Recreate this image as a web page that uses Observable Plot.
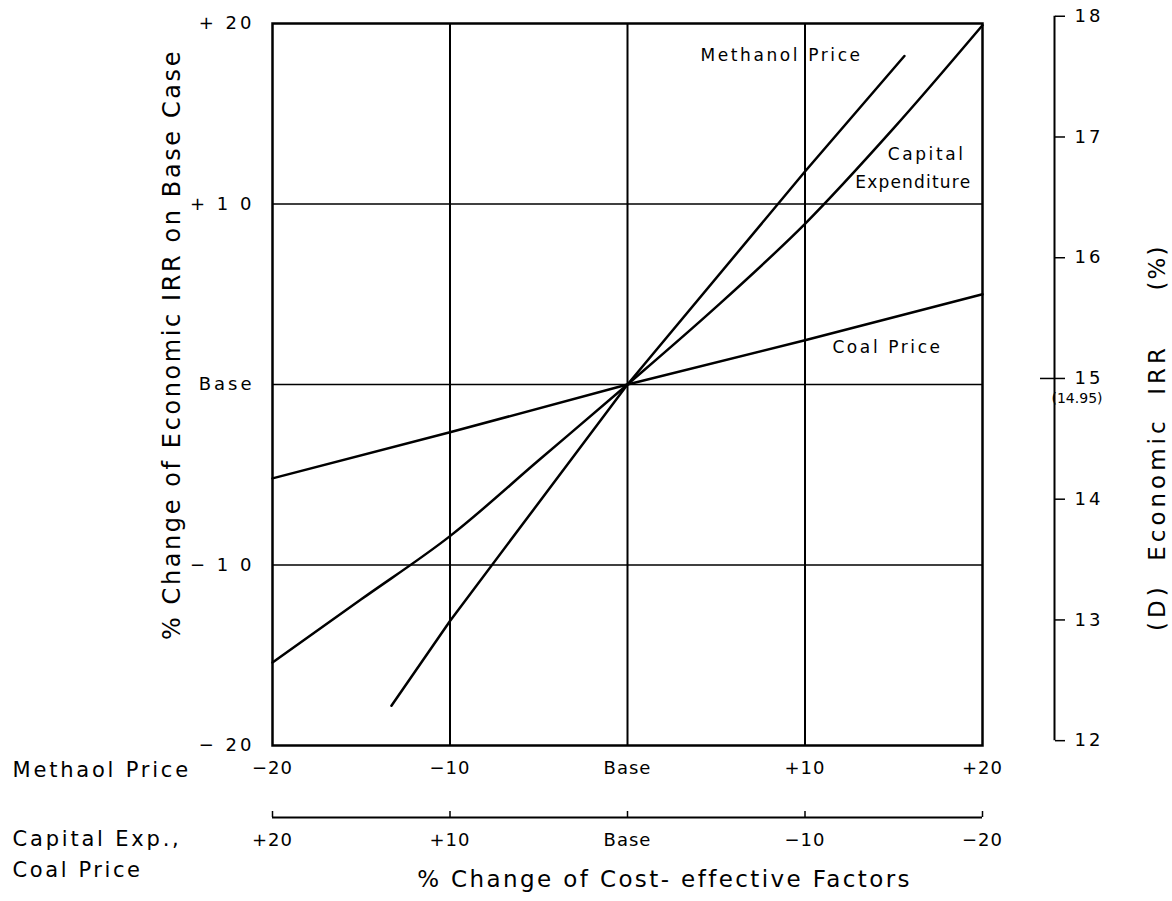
<!DOCTYPE html>
<html>
<head>
<meta charset="utf-8">
<script src="https://cdn.jsdelivr.net/npm/d3@7"></script>
<script src="https://cdn.jsdelivr.net/npm/@observablehq/plot@0.6"></script>
<style>
  html, body { margin: 0; padding: 0; background: #fff; }
  svg text { font-family: "DejaVu Sans", "Liberation Sans", sans-serif; }
  g[aria-label="y-axis tick label"] text { letter-spacing: 3px; }
  g[aria-label="x-axis tick label"] text { letter-spacing: 1px; }
</style>
</head>
<body>
<div id="chart"></div>
<script>
// ---- Data ----
const xTicks = [-20, -10, 0, 10, 20];
const yTicks = [-20, -10, 0, 10, 20];
const yTickLabels = ["− 20", "− 1 0", "Base", "+ 1 0", "+ 20"];
const methanolAxisLabels = ["−20", "−10", "Base", "+10", "+20"];
const capitalAxisLabels = ["+20", "+10", "Base", "−10", "−20"];
const irrBase = 14.95;
const irrTicks = [12, 13, 14, 15, 16, 17, 18];

const methanolX = [-13.3, -10, 0, 10, 15.6];
const methanolY = [-17.8, -13.1, 0, 11.8, 18.2];
const capitalX = [-20, -15, -10, -5, 0, 5, 10, 15, 20];
const capitalY = [-15.4, -11.9, -8.4, -4.2, 0, 4.3, 8.9, 14.2, 19.9];
const coalX = [-20, -10, 0, 10, 20];
const coalY = [-5.2, -2.65, 0, 2.45, 5.0];

const seriesLabels = ["Methanol Price", "Capital", "Expenditure", "Coal Price"];
const seriesLabelX = [8.68, 16.85, 16.1, 14.65];
const seriesLabelY = [18.2, 12.74, 11.19, 2.05];

const leftTitle = "% Change of Economic IRR on Base Case";
const rightTitleA = "(D)  Economic  IRR";
const rightTitleB = "(%)";
const bottomTitle = "% Change of Cost- effective Factors";
const rowLabels = ["Methaol Price", "Capital Exp.,", "Coal Price"];

// ---- Derived ----
const toPct = irr => (irr / irrBase - 1) * 100;
const irrPos = irrTicks.map(toPct);
const mk = (xs, ys) => xs.map((x, i) => ({x, y: ys[i]}));
const methanol = mk(methanolX, methanolY);
const capital = mk(capitalX, capitalY);
const coal = mk(coalX, coalY);
const labels = seriesLabels.map((t, i) => ({t, x: seriesLabelX[i], y: seriesLabelY[i]}));

const txt = {fill: "black", textAnchor: "middle", lineAnchor: "middle"};

const chart = Plot.plot({
  width: 1172,
  height: 901,
  marginLeft: 272,
  marginRight: 190,
  marginTop: 23,
  marginBottom: 156,
  x: {domain: [-20, 20]},
  y: {domain: [-20, 20]},
  style: {fontFamily: "DejaVu Sans, sans-serif", color: "black", background: "white"},
  marks: [
    // grid
    Plot.ruleY([-10, 0, 10], {stroke: "black", strokeWidth: 1.3}),
    Plot.ruleX([-10, 0, 10], {stroke: "black", strokeWidth: 2}),
    Plot.frame({stroke: "black", strokeWidth: 2.5}),
    // series
    Plot.line(methanol, {x: "x", y: "y", stroke: "black", strokeWidth: 2.5}),
    Plot.line(capital, {x: "x", y: "y", stroke: "black", strokeWidth: 2.5, curve: "catmull-rom"}),
    Plot.line(coal, {x: "x", y: "y", stroke: "black", strokeWidth: 2.5}),
    Plot.text(labels, {x: "x", y: "y", text: "t", fontSize: 17, ...txt}),
    // left axis
    Plot.axisY({anchor: "left", ticks: yTicks, tickSize: 0, tickPadding: 18,
      tickFormat: d => yTickLabels[yTicks.indexOf(d)], fontSize: 18, label: null}),
    Plot.text([leftTitle], {frameAnchor: "left", dx: -100, dy: -40, rotate: -90, fontSize: 24, ...txt}),
    // bottom axis (methanol)
    Plot.axisX({anchor: "bottom", ticks: xTicks, tickSize: 0, tickPadding: 16,
      tickFormat: d => methanolAxisLabels[xTicks.indexOf(d)], fontSize: 18, label: null}),
    // second bottom axis (capital, coal)
    Plot.ruleY([-20], {x1: -20, x2: 20, dy: 72, stroke: "black", strokeWidth: 1.8}),
    Plot.axisX({anchor: "bottom", ticks: xTicks, tickSize: -6, tickPadding: 0, dy: 72,
      tickFormat: () => "", label: null, strokeWidth: 1.5}),
    Plot.axisX({anchor: "bottom", ticks: xTicks, tickSize: 0, tickPadding: 16, dy: 72,
      tickFormat: d => capitalAxisLabels[xTicks.indexOf(d)], fontSize: 18, label: null}),
    Plot.text([rowLabels[0]], {frameAnchor: "bottom-left", dx: -260, dy: 25, fontSize: 21, ...txt, textAnchor: "start"}),
    Plot.text([rowLabels[1]], {frameAnchor: "bottom-left", dx: -260, dy: 94, fontSize: 21, ...txt, textAnchor: "start"}),
    Plot.text([rowLabels[2]], {frameAnchor: "bottom-left", dx: -260, dy: 125, fontSize: 21, ...txt, textAnchor: "start"}),
    Plot.text([bottomTitle], {frameAnchor: "bottom", dx: 37, dy: 134, fontSize: 23, ...txt}),
    // right IRR axis
    Plot.ruleX([20], {y1: toPct(12), y2: toPct(18), dx: 72, stroke: "black", strokeWidth: 2}),
    Plot.axisY({anchor: "right", ticks: irrPos, tickSize: 10, tickPadding: 10, dx: 72,
      tickFormat: d => String(irrTicks[irrPos.indexOf(d)]), fontSize: 18, label: null, strokeWidth: 1.5}),
    Plot.axisY({anchor: "left", ticks: [toPct(15)], tickSize: 14, dx: 782, tickFormat: () => "", label: null, strokeWidth: 1.5}),
    Plot.text(["(" + irrBase + ")"], {x: 20, y: toPct(15), dx: 69, dy: 20, ...txt, textAnchor: "start", fontSize: 14}),
    Plot.text([rightTitleA], {frameAnchor: "right", dx: 175, dy: 103, rotate: -90, fontSize: 23, ...txt}),
    Plot.text([rightTitleB], {frameAnchor: "right", dx: 175, dy: -117, rotate: -90, fontSize: 23, ...txt})
  ]
});

// letter spacing (styling only)
const spacing = new Map([
  [leftTitle, 2.6], [rightTitleA, 4], [rightTitleB, 2], [bottomTitle, 2.4],
  [rowLabels[0], 2.8], [rowLabels[1], 2.8], [rowLabels[2], 2.8],
  [seriesLabels[0], 2.6], [seriesLabels[1], 2.6], [seriesLabels[2], 1.2], [seriesLabels[3], 2.6]
]);
chart.querySelectorAll('g[aria-label="text"] text').forEach(t => {
  const s = spacing.get(t.textContent);
  if (s != null) t.style.letterSpacing = s + "px";
  t.style.whiteSpace = "pre";
});
document.getElementById("chart").appendChild(chart);
</script>
</body>
</html>
